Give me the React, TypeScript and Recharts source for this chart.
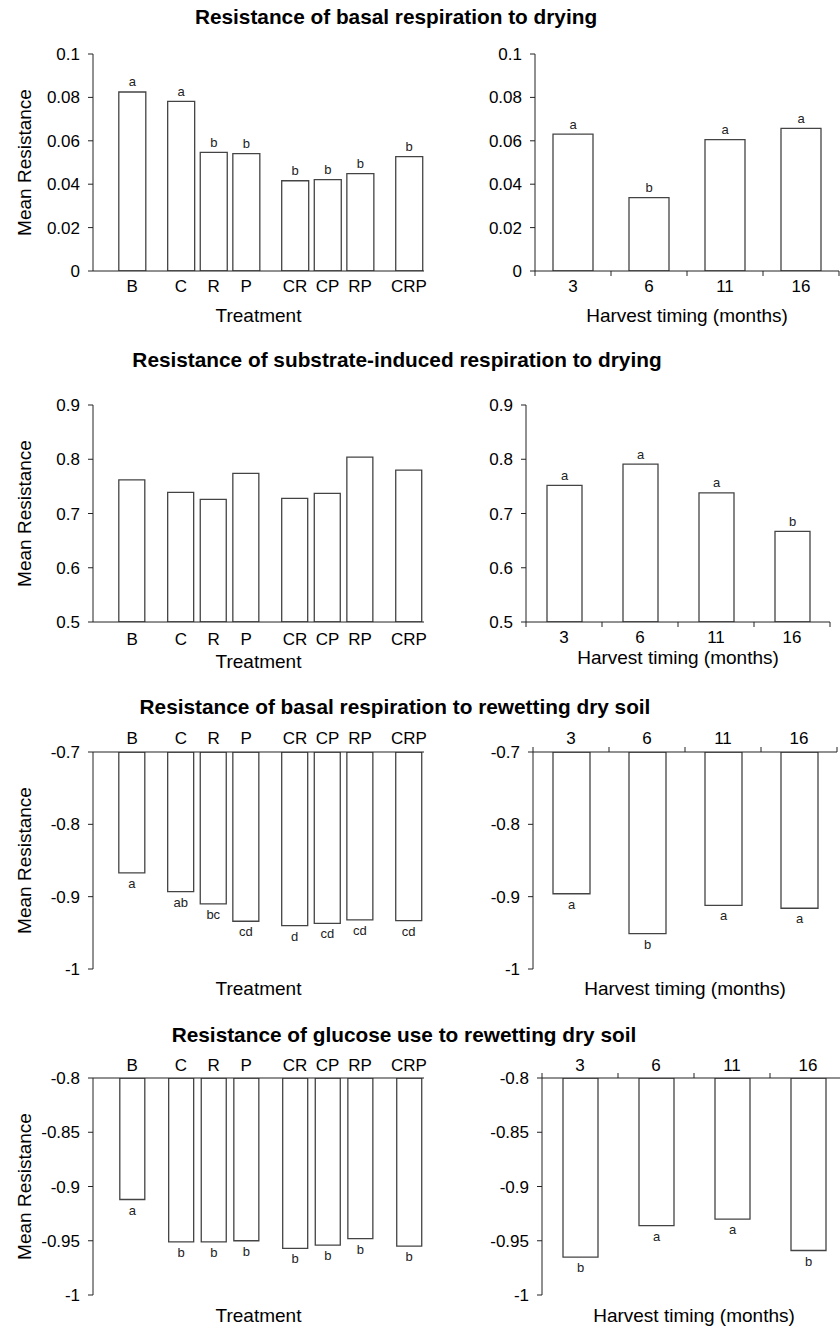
import React from 'react';
import { BarChart, Bar, XAxis, YAxis, LabelList } from 'recharts';

const FONT = "'Liberation Sans', Arial, Helvetica, sans-serif";

// categories
const treatmentGroups = [['B'], ['C', 'R', 'P'], ['CR', 'CP', 'RP'], ['CRP']];
const harvestMonths = ['3', '6', '11', '16'];

// Resistance of basal respiration to drying
const basalDryTreatment = [0.0825, 0.0782, 0.0547, 0.0541, 0.0416, 0.0421, 0.0449, 0.0527];
const basalDryTreatmentSig = ['a', 'a', 'b', 'b', 'b', 'b', 'b', 'b'];
const basalDryHarvest = [0.0631, 0.0338, 0.0605, 0.0657];
const basalDryHarvestSig = ['a', 'b', 'a', 'a'];

// Resistance of substrate-induced respiration to drying
const sirDryTreatment = [0.762, 0.739, 0.726, 0.774, 0.728, 0.737, 0.804, 0.78];
const sirDryHarvest = [0.752, 0.791, 0.738, 0.667];
const sirDryHarvestSig = ['a', 'a', 'a', 'b'];

// Resistance of basal respiration to rewetting dry soil
const basalWetTreatment = [-0.867, -0.893, -0.91, -0.934, -0.94, -0.937, -0.932, -0.933];
const basalWetTreatmentSig = ['a', 'ab', 'bc', 'cd', 'd', 'cd', 'cd', 'cd'];
const basalWetHarvest = [-0.896, -0.951, -0.912, -0.916];
const basalWetHarvestSig = ['a', 'b', 'a', 'a'];

// Resistance of glucose use to rewetting dry soil
const glucoseWetTreatment = [-0.912, -0.951, -0.951, -0.95, -0.957, -0.954, -0.948, -0.955];
const glucoseWetTreatmentSig = ['a', 'b', 'b', 'b', 'b', 'b', 'b', 'b'];
const glucoseWetHarvest = [-0.965, -0.936, -0.93, -0.959];
const glucoseWetHarvestSig = ['b', 'a', 'a', 'b'];

// y ticks
const ticksBasalDry = [0, 0.02, 0.04, 0.06, 0.08, 0.1];
const ticksSirDry = [0.5, 0.6, 0.7, 0.8, 0.9];
const ticksBasalWet = [-1, -0.9, -0.8, -0.7];
const ticksGlucoseWet = [-1, -0.95, -0.9, -0.85, -0.8];

// treatments sit on a numeric axis, with half a slot of space between groups
const treatments = treatmentGroups.flat();
const treatmentPos = (() => {
  let i = 0;
  return treatmentGroups.flatMap((g, gi) => g.map(() => i++ + gi * 0.5));
})();

type Row = { name: string; pos?: number; v: number; sig: string };

const treatmentRows = (values: number[], sig?: string[]): Row[] =>
  treatments.map((name, i) => ({ name, pos: treatmentPos[i], v: values[i], sig: sig ? sig[i] : '' }));
const harvestRows = (values: number[], sig: string[]): Row[] =>
  harvestMonths.map((name, i) => ({ name, v: values[i], sig: sig[i] }));

type PanelCfg = {
  x: number; y: number; w: number; h: number;
  rows: Row[];
  kind: 'treatment' | 'harvest';
  yTicks: number[];
  top: boolean;
  barSize: number;
  labelGap: number;
  sigGap: number;
  xTitle: string;
  xTitleBase: number;
  yTitle: boolean;
};

const AX = 30;
const PAD = 16;
const YW = 70;
const RM = 10;

function Panel(p: PanelCfg) {
  const isT = p.kind === 'treatment';
  const halfBand = p.w / p.rows.length / 2;
  const dir = p.top ? -1 : 1;
  const hasSig = p.rows.some((r) => r.sig);

  const tick = (t: any) => {
    const { x, y, payload, index } = t;
    const label = isT ? (p.rows.find((r) => r.pos === payload.value)?.name ?? '') : payload.value;
    return (
      <g>
        <text x={x} y={y + dir * p.labelGap} textAnchor="middle" fontSize={17} fill="#000">
          {label}
        </text>
        {!isT && <line x1={x + halfBand} x2={x + halfBand} y1={y} y2={y + dir * 5} stroke="#222" />}
        {!isT && index === 0 && <line x1={x - halfBand} x2={x - halfBand} y1={y} y2={y + dir * 5} stroke="#222" />}
      </g>
    );
  };

  const sigLabel = (lp: any) => {
    const { x, y, width, height, value } = lp;
    if (!value) return null;
    const a = Number(y);
    const b = Number(y) + Number(height);
    const ty = p.top ? Math.max(a, b) + p.sigGap : Math.min(a, b) - p.sigGap;
    return (
      <text x={Number(x) + Number(width) / 2} y={ty} textAnchor="middle" fontSize={13} fill="#222">
        {value}
      </text>
    );
  };

  const yMin = Math.min(...p.yTicks);
  const yMax = Math.max(...p.yTicks);

  return (
    <div style={{ position: 'absolute', left: p.x - YW, top: p.y - (p.top ? AX + PAD : PAD) }}>
      <BarChart
        width={p.w + YW + RM}
        height={p.h + AX + 2 * PAD}
        data={p.rows}
        margin={{ top: PAD, right: RM, bottom: PAD, left: 0 }}
      >
        {isT ? (
          <XAxis
            dataKey="pos"
            type="number"
            domain={[Math.min(...treatmentPos) - 1.2, Math.max(...treatmentPos) + 0.46]}
            ticks={treatmentPos}
            interval={0}
            orientation={p.top ? 'top' : 'bottom'}
            height={AX}
            tickLine={false}
            tickSize={0}
            tickMargin={0}
            axisLine={{ stroke: '#222' }}
            tick={tick}
            allowDataOverflow
          />
        ) : (
          <XAxis
            dataKey="name"
            type="category"
            interval={0}
            orientation={p.top ? 'top' : 'bottom'}
            height={AX}
            tickLine={false}
            tickSize={0}
            tickMargin={0}
            axisLine={{ stroke: '#222' }}
            tick={tick}
          />
        )}
        <YAxis
          type="number"
          domain={[yMin, yMax]}
          ticks={p.yTicks}
          interval={0}
          width={YW}
          tickSize={5}
          tickMargin={8}
          axisLine={{ stroke: '#222' }}
          tickLine={{ stroke: '#222' }}
          tick={{ fontSize: 17, fill: '#000' }}
          allowDataOverflow
        />
        <Bar dataKey="v" fill="#fff" stroke="#444" strokeWidth={1.3} barSize={p.barSize} isAnimationActive={false}>
          {hasSig && <LabelList dataKey="sig" content={sigLabel} />}
        </Bar>
      </BarChart>
    </div>
  );
}

const titles = [
  { text: 'Resistance of basal respiration to drying', x: 396, y: 24 },
  { text: 'Resistance of substrate-induced respiration to drying', x: 397, y: 367 },
  { text: 'Resistance of basal respiration to rewetting dry soil', x: 395, y: 714 },
  { text: 'Resistance of glucose use to rewetting dry soil', x: 404, y: 1042 },
];

const panels: PanelCfg[] = [
  { x: 93, y: 54, w: 331, h: 217, rows: treatmentRows(basalDryTreatment, basalDryTreatmentSig), kind: 'treatment', yTicks: ticksBasalDry, top: false, barSize: 27, labelGap: 21, sigGap: 5.5, xTitle: 'Treatment', xTitleBase: 322, yTitle: true },
  { x: 535, y: 54, w: 304, h: 217, rows: harvestRows(basalDryHarvest, basalDryHarvestSig), kind: 'harvest', yTicks: ticksBasalDry, top: false, barSize: 40, labelGap: 21, sigGap: 5.5, xTitle: 'Harvest timing (months)', xTitleBase: 322, yTitle: false },
  { x: 93, y: 405, w: 331, h: 217, rows: treatmentRows(sirDryTreatment), kind: 'treatment', yTicks: ticksSirDry, top: false, barSize: 26, labelGap: 23, sigGap: 5.5, xTitle: 'Treatment', xTitleBase: 668, yTitle: true },
  { x: 526, y: 405, w: 304, h: 217, rows: harvestRows(sirDryHarvest, sirDryHarvestSig), kind: 'harvest', yTicks: ticksSirDry, top: false, barSize: 35, labelGap: 21, sigGap: 5.5, xTitle: 'Harvest timing (months)', xTitleBase: 664, yTitle: false },
  { x: 93, y: 752, w: 331, h: 217, rows: treatmentRows(basalWetTreatment, basalWetTreatmentSig), kind: 'treatment', yTicks: ticksBasalWet, top: true, barSize: 26, labelGap: 8, sigGap: 15, xTitle: 'Treatment', xTitleBase: 995, yTitle: true },
  { x: 533, y: 752, w: 304, h: 217, rows: harvestRows(basalWetHarvest, basalWetHarvestSig), kind: 'harvest', yTicks: ticksBasalWet, top: true, barSize: 37, labelGap: 8, sigGap: 15, xTitle: 'Harvest timing (months)', xTitleBase: 995, yTitle: false },
  { x: 93, y: 1078, w: 331, h: 217, rows: treatmentRows(glucoseWetTreatment, glucoseWetTreatmentSig), kind: 'treatment', yTicks: ticksGlucoseWet, top: true, barSize: 25, labelGap: 7, sigGap: 15, xTitle: 'Treatment', xTitleBase: 1322, yTitle: true },
  { x: 542, y: 1078, w: 304, h: 217, rows: harvestRows(glucoseWetHarvest, glucoseWetHarvestSig), kind: 'harvest', yTicks: ticksGlucoseWet, top: true, barSize: 35, labelGap: 7, sigGap: 15, xTitle: 'Harvest timing (months)', xTitleBase: 1322, yTitle: false },
];

export default function App() {
  return (
    <div
      style={{
        position: 'absolute',
        left: 0,
        top: 0,
        width: 840,
        height: 1326,
        overflow: 'hidden',
        background: '#fff',
        fontFamily: FONT,
      }}
    >
      {panels.map((p, i) => (
        <Panel key={i} {...p} />
      ))}
      <svg width={840} height={1326} style={{ position: 'absolute', left: 0, top: 0, pointerEvents: 'none' }}>
        {titles.map((t) => (
          <text key={t.text} x={t.x} y={t.y} textAnchor="middle" fontSize={20.8} fontWeight="bold" fill="#000">
            {t.text}
          </text>
        ))}
        {panels.map((p, i) => (
          <text key={'xt' + i} x={p.x + p.w / 2} y={p.xTitleBase} textAnchor="middle" fontSize={19} fill="#000">
            {p.xTitle}
          </text>
        ))}
        {panels
          .filter((p) => p.yTitle)
          .map((p, i) => (
            <text
              key={'yt' + i}
              transform={`translate(24, ${p.y + p.h / 2}) rotate(-90)`}
              textAnchor="middle"
              dominantBaseline="central"
              fontSize={19}
              fill="#000"
            >
              Mean Resistance
            </text>
          ))}
      </svg>
    </div>
  );
}
